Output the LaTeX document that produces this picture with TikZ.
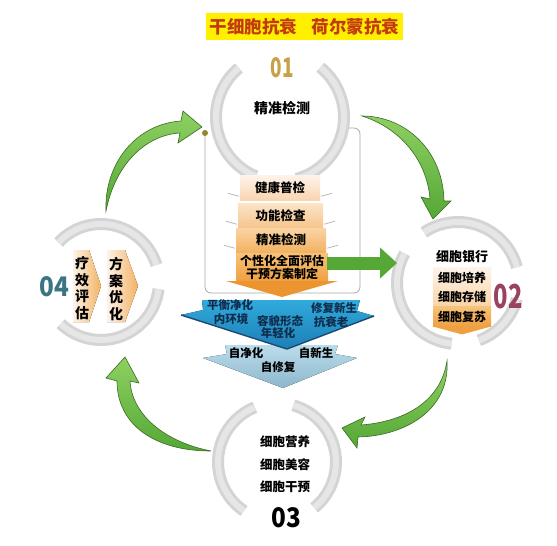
\documentclass[tikz,border=0pt]{standalone}
\usepackage{fontspec}
\setmainfont{Noto Sans CJK SC}
\usetikzlibrary{arrows.meta,calc}

\definecolor{ringgray}{HTML}{D4D4D4}
\definecolor{ringlight}{HTML}{E6E6E6}
\definecolor{framegray}{HTML}{A8A8A8}
\definecolor{leafgreen}{HTML}{55A836}
\definecolor{leaflight}{HTML}{8ED062}
\definecolor{leafdark}{HTML}{3A6A22}
\definecolor{titleyellow}{HTML}{FFF000}
\definecolor{titlered}{HTML}{C43A10}
\definecolor{numgold}{HTML}{C9A048}
\definecolor{nummauve}{HTML}{9A4262}
\definecolor{numteal}{HTML}{3B7482}
\definecolor{skyblue}{HTML}{30AADC}
\definecolor{deepblue}{HTML}{1C7FB6}
\definecolor{navyedge}{HTML}{1B4A75}
\definecolor{paleblue}{HTML}{BADDEC}
\definecolor{mistblue}{HTML}{8DB6CB}
\definecolor{inkblue}{HTML}{102C4C}
\definecolor{peachA}{HTML}{FDF3EA}
\definecolor{peachB}{HTML}{F9D5B0}
\definecolor{peachC}{HTML}{FCE4C8}
\definecolor{peachD}{HTML}{F6C48C}
\definecolor{apricotA}{HTML}{F9D4A4}
\definecolor{apricotB}{HTML}{F3B262}
\definecolor{orangeA}{HTML}{F7C27A}
\definecolor{orangeB}{HTML}{EFA040}
\definecolor{orangeC}{HTML}{EC9530}

\newcommand{\fsz}[1]{\fontsize{#1}{#1}\selectfont}

\begin{document}
\begin{tikzpicture}[x=1pt,y=-1pt,
    ring/.style={draw=ringgray,line width=12pt},
    ringhi/.style={draw=ringlight,line width=6pt},
    leaf/.style={draw=leafdark,line width=0.6pt,top color=leaflight,bottom color=leafgreen},
    frame/.style={draw=framegray,line width=0.8pt,rounded corners=6pt},
    notch/.style={draw=gray!55,line width=0.8pt},
    obox/.style={inner sep=0pt,font=\bfseries\fsz{12.5}},
    num/.style={font=\bfseries\fsz{27},transform shape}]

  \useasboundingbox (0,0) rectangle (557,546);
  \fill[white] (0,0) rectangle (557,546);

  % ring centres
  \coordinate (r1) at (280,117);
  \coordinate (r2) at (458,283);
  \coordinate (r3) at (277,462);
  \coordinate (r4) at (101,282);

  % rings (angles negated, y runs down)
  \foreach \a/\b in {75/-51,-130/-248} {
    \draw[ring] (r1) ++(\a:64) arc[start angle=\a,end angle=\b,radius=64];
    \draw[ringhi] (r1) ++(\a:64) arc[start angle=\a,end angle=\b,radius=64];
  }
  \foreach \a/\b in {-15/-124,-151/-264,70/15} {
    \draw[ring] (r2) ++(\a:61) arc[start angle=\a,end angle=\b,radius=61];
    \draw[ringhi] (r2) ++(\a:61) arc[start angle=\a,end angle=\b,radius=61];
  }
  \foreach \a/\b in {51/-74,-112/-236} {
    \draw[ring] (r3) ++(\a:59) arc[start angle=\a,end angle=\b,radius=59];
    \draw[ringhi] (r3) ++(\a:59) arc[start angle=\a,end angle=\b,radius=59];
  }
  \foreach \a/\b in {-17/-137,-226/-353} {
    \draw[ring] (r4) ++(\a:58) arc[start angle=\a,end angle=\b,radius=58];
    \draw[ringhi] (r4) ++(\a:58) arc[start angle=\a,end angle=\b,radius=58];
  }

  % frame under ring 01
  \coordinate (fdot) at (205,133);
  \draw[frame] (fdot) -- (205,293) -- (360,293) -- (360,128) -- (349,128);
  \fill[olive!70!gray] (fdot) circle[radius=3];

  \node[fill=titleyellow,text=titlered,minimum width=195pt,minimum height=27pt,
        font=\bfseries\fsz{17.5}] (title) at (304.5,26.5) {干细胞抗衰\hspace{15pt}荷尔蒙抗衰};

  % step 01
  \node[num,text=numgold,xscale=0.7] (n01) at (282,68) {01};
  \node[font=\bfseries\fsz{14}] (t01) at (282,108) {精准检测};

  \begin{scope}[every node/.style={obox}]
    \node[minimum width=80pt,minimum height=25pt,top color=peachA,bottom color=peachB] (b1) at (280,187.5) {健康普检};
    \node[minimum width=85pt,minimum height=25pt,top color=peachC,bottom color=peachD] (b2) at (280.5,215.5) {功能检查};
    \node[minimum width=90pt,minimum height=24pt,top color=apricotA,bottom color=apricotB] (b3) at (281,240) {精准检测};
    \node[minimum width=92pt,minimum height=28pt,top color=orangeA,bottom color=orangeB,align=center,
          font=\bfseries\fontsize{12}{13}\selectfont] (b4) at (282,267) {个性化全面评估\\干预方案制定};
  \end{scope}
  \fill[orangeC] (226,281) -- (338,281) -- (282,297) -- cycle;
  \foreach \n in {b1,b2,b3} {
    \draw[notch] (\n.south west) ++(-1,-4) -- ++(-11,-3);
    \draw[notch] (\n.south east) ++(1,-4) -- ++(11,-3);
  }

  \coordinate (gs) at (327,263);
  \coordinate (ge) at (397,263);
  \draw[leafgreen,line width=13pt,-{Triangle[length=17pt,width=30pt]}] (gs) -- (ge);

  % blue chevrons
  \fill[top color=paleblue,bottom color=mistblue] (225,345) -- (338,345) -- (335,354) -- (357,358)
    -- (283,388) -- (203,358) -- (227,354) -- cycle;
  \fill[top color=skyblue,bottom color=deepblue] (202,300) -- (360,300) -- (357,311) -- (374,316)
    -- (287,349) -- (181,315) -- (203,310) -- cycle;
  \draw[navyedge,line width=1.4pt] (181,315) -- (287,349) -- (374,316);

  \begin{scope}[every node/.style={font=\bfseries\fsz{11.5},text=inkblue,inner sep=0pt}]
    \node (p1) at (230,305) {平衡净化};
    \node (p2) at (231,319) {内环境};
    \node (p3) at (280,321) {容貌形态};
    \node (p4) at (278,333) {年轻化};
    \node (p5) at (334,308) {修复新生};
    \node (p6) at (331,322) {抗衰老};
  \end{scope}
  \begin{scope}[every node/.style={font=\bfseries\fsz{11.5},inner sep=0pt}]
    \node (s1) at (246,353) {自净化};
    \node (s2) at (316,353) {自新生};
    \node (s3) at (278,367) {自修复};
  \end{scope}

  % step 02
  \node[font=\bfseries\fsz{13}] (t02) at (462,257) {细胞银行};
  \begin{scope}[every node/.style={obox,font=\bfseries\fsz{12},minimum width=58pt,minimum height=19.5pt}]
    \node[top color=peachA,bottom color=peachC] (c1) at (462,277.5) {细胞培养};
    \node[top color=peachC,bottom color=apricotA] (c2) at (462,297) {细胞存储};
    \node[top color=orangeA,bottom color=orangeB] (c3) at (462,316.5) {细胞复苏};
  \end{scope}
  \fill[orangeB] (c3.south west) -- (c3.south east) -- ($(c3.south)+(0,8)$) -- cycle;
  \node[num,text=nummauve,font=\bfseries\fsz{33},xscale=0.72] (n02) at (508,297) {02};

  % step 03
  \begin{scope}[every node/.style={font=\bfseries\fsz{12.5}}]
    \node (d1) at (285,442) {细胞营养};
    \node (d2) at (285,465) {细胞美容};
    \node (d3) at (285,487) {细胞干预};
  \end{scope}
  \node[num,xscale=0.9] (n03) at (286,518) {03};

  % step 04
  \fill[left color=peachA,right color=apricotB] (73,250) -- (89,250) -- (101,286) -- (89,322) -- (73,322) -- cycle;
  \fill[left color=peachA,right color=apricotB] (107,250) -- (125,250) -- (138,286) -- (125,322) -- (107,322) -- cycle;
  \begin{scope}[every node/.style={font=\bfseries\fontsize{14}{16.7}\selectfont,align=center,inner sep=0pt}]
    \node (e1) at (82,288) {疗\\效\\评\\估};
    \node (e2) at (116,289) {方\\案\\优\\化};
  \end{scope}
  \node[num,text=numteal,xscale=0.9] (n04) at (54,287) {04};

  % curved green arrows between the rings
  \coordinate (a1t) at (106,211);  \coordinate (a1h) at (202,127);
  \coordinate (a2t) at (362,116);  \coordinate (a2h) at (433,219);
  \coordinate (a3t) at (447,361);  \coordinate (a3h) at (342,428);
  \coordinate (a4t) at (211,451);  \coordinate (a4h) at (125,357);

  \draw[leaf] (a1t) .. controls (104,165) and (135,124) .. (181,121) -- (183,111) -- (a1h)
    -- (178,143) -- (180,133) .. controls (145,135) and (115,165) .. cycle;
  \draw[leaf] (a2t) .. controls (405,116) and (443,150) .. (444,201) -- (451,201) -- (a2h)
    -- (421,197) -- (430,199) .. controls (427,160) and (400,128) .. cycle;
  \draw[leaf] (a3t) .. controls (450,410) and (405,436) .. (358,437) -- (357,448) -- (a3h)
    -- (365,417) -- (361,425) .. controls (400,422) and (440,405) .. cycle;
  \draw[leaf] (a4t) .. controls (155,451) and (117,425) .. (117,381) -- (106,378) -- (a4h)
    -- (139,383) -- (130,381) .. controls (132,415) and (165,442) .. cycle;

\end{tikzpicture}
\end{document}
